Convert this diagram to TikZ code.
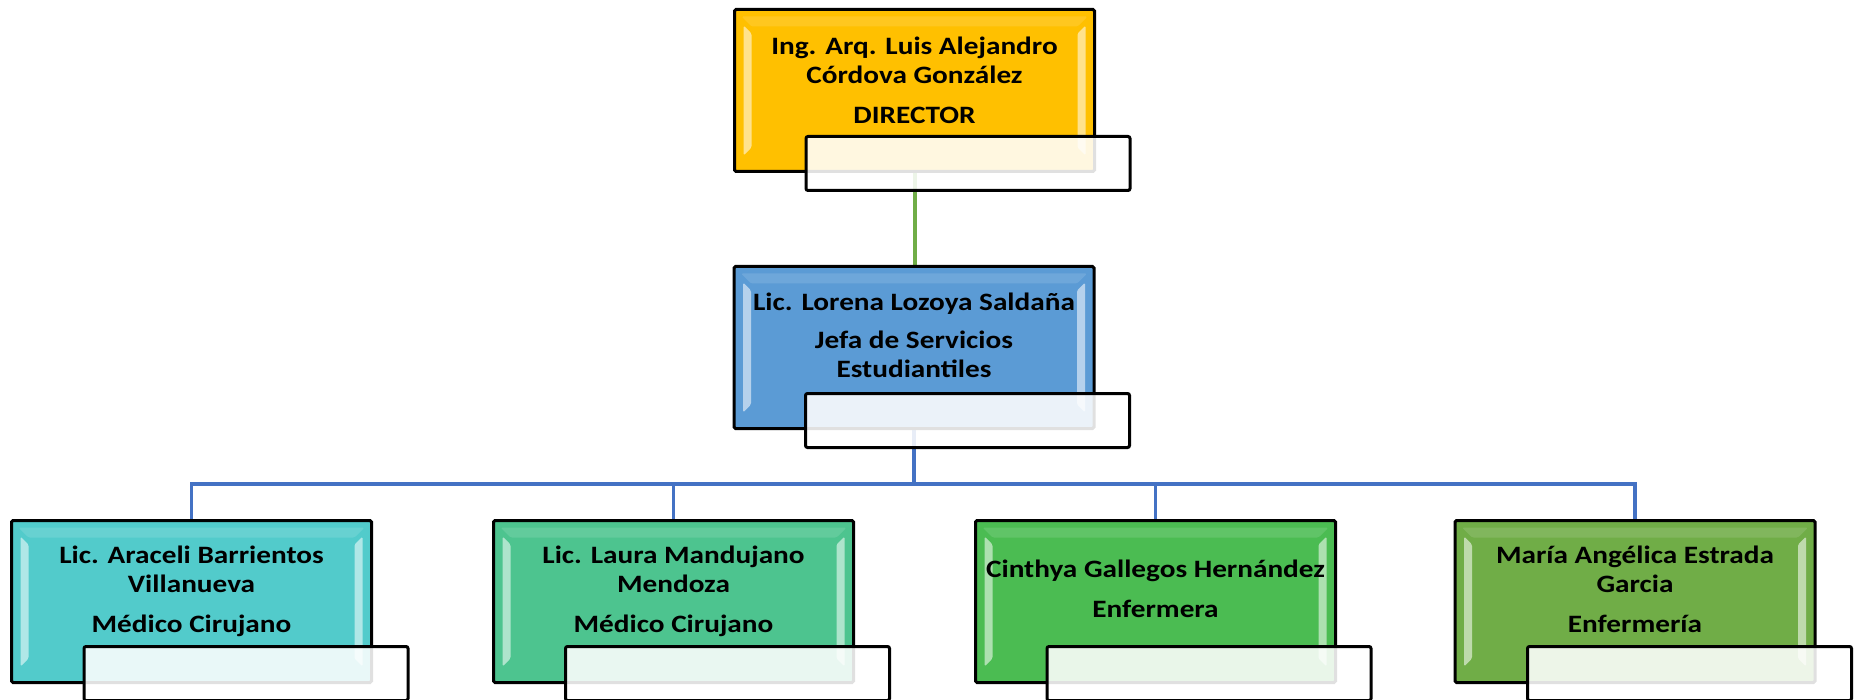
\documentclass[tikz,border=0pt]{standalone}
\usepackage{fontspec}
\setmainfont[FakeStretch=1.17]{Carlito}
\usetikzlibrary{calc,backgrounds}
\definecolor{cdir}{HTML}{FFC000}
\definecolor{cjefa}{HTML}{5B9BD5}
\definecolor{cone}{HTML}{52CBCB}
\definecolor{ctwo}{HTML}{4DC48F}
\definecolor{cthree}{HTML}{4BBC52}
\definecolor{cfour}{HTML}{70AD47}
\definecolor{glink}{HTML}{70AD47}
\definecolor{blink}{HTML}{4472C4}
\begin{document}
\begin{tikzpicture}[x=1pt,y=-1pt,
  box/.style={draw=black, line width=3pt, rounded corners=1.5pt,
    minimum width=360pt, minimum height=162pt, inner sep=0pt, outer sep=0pt, fill=#1,
    path picture={
      \fill[white, opacity=0.55]
        ($(path picture bounding box.north west)+(9,16)$) -- ++(8,8)
        -- ($(path picture bounding box.south west)+(17,-24)$) -- ++(-8,8) -- cycle;
      \fill[white, opacity=0.55]
        ($(path picture bounding box.north east)+(-9,16)$) -- ++(-8,8)
        -- ($(path picture bounding box.south east)+(-17,-24)$) -- ++(8,8) -- cycle;
      \fill[white, opacity=0.12]
        ($(path picture bounding box.north west)+(7,7)$) -- ($(path picture bounding box.north east)+(-7,7)$)
        -- ++(-10,10) -- ($(path picture bounding box.north west)+(17,17)$) -- cycle;
    }},
  subbox/.style={draw=black, line width=3pt, rounded corners=2pt, fill=white, fill opacity=0.88,
    minimum width=324pt, minimum height=54pt, inner sep=0pt, outer sep=0pt},
  txt/.style={font=\bfseries\fontsize{25}{29}\selectfont, align=center, inner sep=0pt, text=black},
  gline/.style={draw=glink, line width=4pt},
  bline/.style={draw=blink, line width=3.5pt},
]
\useasboundingbox (0,0) rectangle (1860,700);
\clip (0,0) rectangle (1860,700);

% top
\node[box=cdir] (dir) at (914.5,90.5) {};
\node[txt] (dirt) at ($(dir.center)+(0,-10.5)$) {Ing. Arq. Luis Alejandro\\Córdova González\\[11pt]DIRECTOR};
\node[subbox] (dirs) at ($(dir.center)+(53.5,73)$) {};

% middle
\node[box=cjefa] (jefa) at (914,347.5) {};
\node[txt] (jefat) at ($(jefa.center)+(0,-12.5)$) {Lic. Lorena Lozoya Saldaña\\[9pt]Jefa de Servicios\\Estudiantiles};
\node[subbox] (jefas) at ($(jefa.center)+(53.5,73)$) {};

% bottom row
\node[box=cone] (b1) at (191.5,601.5) {};
\node[txt] (b1t) at ($(b1.center)+(0,-10.5)$) {Lic. Araceli Barrientos\\Villanueva\\[11pt]Médico Cirujano};
\node[subbox] (b1s) at ($(b1.center)+(54.5,72)$) {};

\node[box=ctwo] (b2) at (673.5,601.5) {};
\node[txt] (b2t) at ($(b2.center)+(0,-10.5)$) {Lic. Laura Mandujano\\Mendoza\\[11pt]Médico Cirujano};
\node[subbox] (b2s) at ($(b2.center)+(54,72)$) {};

\node[box=cthree] (b3) at (1155.5,601.5) {};
\node[txt] (b3t) at ($(b3.center)+(0,-12.5)$) {Cinthya Gallegos Hernández\\[11pt]Enfermera};
\node[subbox] (b3s) at ($(b3.center)+(53.5,72)$) {};

\node[box=cfour] (b4) at (1635,601.5) {};
\node[txt] (b4t) at ($(b4.center)+(0,-12.5)$) {María Angélica Estrada\\Garcia\\[11pt]Enfermería};
\node[subbox] (b4s) at ($(b4.center)+(54.5,72)$) {};

\coordinate (bus) at (914,484);

\begin{pgfonlayer}{background}
\draw[gline] (dir.south) -- (dir.south |- jefa.north);
\draw[bline] (jefa.south) -- (bus);
\draw[bline] (bus) -| (b1.north);
\draw[bline] (bus) -| (b2.north);
\draw[bline] (bus) -| (b3.north);
\draw[bline] (bus) -| (b4.north);
\end{pgfonlayer}
\end{tikzpicture}
\end{document}
